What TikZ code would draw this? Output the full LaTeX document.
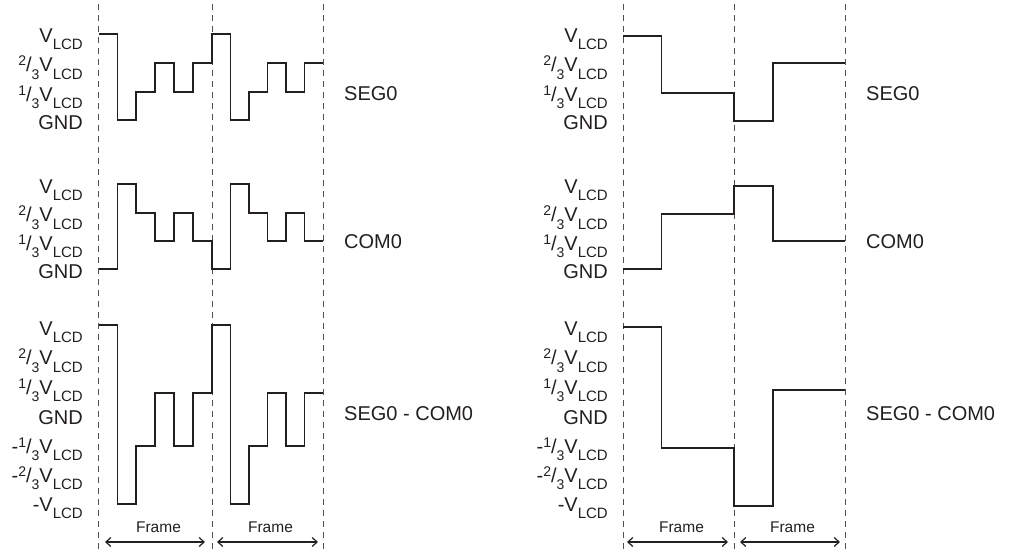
\documentclass[tikz,border=0pt]{standalone}
\usepackage{fontspec}
\setmainfont{Liberation Sans}
\usetikzlibrary{arrows.meta}
\definecolor{ink}{HTML}{231F20}
\definecolor{dashgrey}{HTML}{505050}
\newcommand{\LCDsub}{\raisebox{-7.5pt}{\fontsize{15pt}{15pt}\selectfont LCD}}
\newcommand{\VLCD}{V\LCDsub}
\newcommand{\thirds}[1]{\raisebox{6pt}{\fontsize{14pt}{14pt}\selectfont #1}/\raisebox{-7.5pt}{\fontsize{14pt}{14pt}\selectfont 3}}
\tikzset{
  wave/.style={line width=1.8pt, ink, line join=miter},
  guide/.style={line width=0.9pt, dashgrey, dash pattern=on 6pt off 5pt},
  lvl/.style={anchor=base east, inner sep=0pt, text=ink, font=\fontsize{20pt}{20pt}\selectfont},
  sig/.style={anchor=base west, inner sep=0pt, text=ink, font=\fontsize{20pt}{20pt}\selectfont},
  framelbl/.style={anchor=base, inner sep=0pt, text=ink, font=\fontsize{15.5pt}{15.5pt}\selectfont},
  framearrow/.style={line width=1.2pt, ink, {Straight Barb[length=5pt,width=9pt]}-{Straight Barb[length=5pt,width=9pt]}}
}
\begin{document}
\begin{tikzpicture}[x=1pt,y=-1pt]
\useasboundingbox (0,0) rectangle (1015,550);

% ---------- guides ----------
\foreach \gx in {98.5,212,323,623,734,845}
  \draw[guide] (\gx,4) -- (\gx,550);

% ---------- level labels ----------
\foreach \px/\nm in {83/L,608/R}{
  % SEG0
  \node[lvl] (\nm s1) at (\px,42) {\VLCD};
  \node[lvl] (\nm s2) at (\px,71.5) {\thirds{2}\VLCD};
  \node[lvl] (\nm s3) at (\px,101) {\thirds{1}\VLCD};
  \node[lvl] (\nm s4) at (\px,129.5) {GND};
  % COM0
  \node[lvl] (\nm c1) at (\px,193) {\VLCD};
  \node[lvl] (\nm c2) at (\px,221.5) {\thirds{2}\VLCD};
  \node[lvl] (\nm c3) at (\px,250) {\thirds{1}\VLCD};
  \node[lvl] (\nm c4) at (\px,278) {GND};
  % SEG0 - COM0
  \node[lvl] (\nm d1) at (\px,335) {\VLCD};
  \node[lvl] (\nm d2) at (\px,364.5) {\thirds{2}\VLCD};
  \node[lvl] (\nm d3) at (\px,394) {\thirds{1}\VLCD};
  \node[lvl] (\nm d4) at (\px,424) {GND};
  \node[lvl] (\nm d5) at (\px,453) {-\thirds{1}\VLCD};
  \node[lvl] (\nm d6) at (\px,482) {-\thirds{2}\VLCD};
  \node[lvl] (\nm d7) at (\px,511) {-\VLCD};
}

% ---------- signal names ----------
\node[sig] (segL) at (344,100) {SEG0};
\node[sig] (comL) at (344,248) {COM0};
\node[sig] (difL) at (344,420) {SEG0 - COM0};
\node[sig] (segR) at (866,100) {SEG0};
\node[sig] (comR) at (866,248) {COM0};
\node[sig] (difR) at (866,420) {SEG0 - COM0};

% ---------- left waveforms ----------
\draw[wave] (98.5,34) -| (117.4,120) -| (136.3,92) -| (155.3,63) -| (174.2,92) -| (193.1,63)
  -| (212,34) -| (230.5,120) -| (249,92) -| (267.5,63) -| (286,92) -| (304.5,63) -- (323,63);
\draw[wave] (98.5,269) -| (117.4,184) -| (136.3,213) -| (155.3,241) -| (174.2,213) -| (193.1,241)
  -| (212,269) -| (230.5,184) -| (249,213) -| (267.5,241) -| (286,213) -| (304.5,241) -- (323,241);
\draw[wave] (98.5,325) -| (117.4,504) -| (136.3,446) -| (155.3,393) -| (174.2,446) -| (193.1,393)
  -| (212,325) -| (230.5,504) -| (249,446) -| (267.5,393) -| (286,446) -| (304.5,393) -- (323,393);

% ---------- right waveforms ----------
\draw[wave] (623,36) -| (661.5,93) -| (734,121) -| (773,63) -- (845,63);
\draw[wave] (623,269) -| (661.5,214) -| (734,186) -| (773,241) -- (845,241);
\draw[wave] (623,327) -| (661.5,448) -| (734,506) -| (773,390) -- (845,390);

% ---------- frame markers ----------
\node[framelbl] (fL1) at (158.5,532.5) {Frame};
\node[framelbl] (fL2) at (270.5,532.5) {Frame};
\node[framelbl] (fR1) at (681.5,532.5) {Frame};
\node[framelbl] (fR2) at (792.5,532.5) {Frame};
\coordinate (aL1a) at (105,542); \coordinate (aL1b) at (205,542);
\coordinate (aL2a) at (217,542); \coordinate (aL2b) at (318,542);
\coordinate (aR1a) at (627,542); \coordinate (aR1b) at (728,542);
\coordinate (aR2a) at (740,542); \coordinate (aR2b) at (840,542);
\draw[framearrow] (aL1a) -- (aL1b);
\draw[framearrow] (aL2a) -- (aL2b);
\draw[framearrow] (aR1a) -- (aR1b);
\draw[framearrow] (aR2a) -- (aR2b);
\end{tikzpicture}
\end{document}
